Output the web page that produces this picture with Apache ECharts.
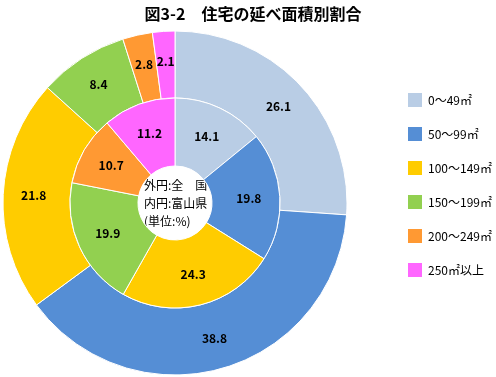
<!DOCTYPE html>
<html>
<head>
<meta charset="utf-8">
<script src="https://cdn.jsdelivr.net/npm/echarts@6/dist/echarts.min.js"></script>
<style>
  html, body { margin: 0; padding: 0; background: #fff; }
  #chart { width: 496px; height: 377px; }
</style>
</head>
<body>
<div id="chart"></div>
<script>
// 延べ面積の区分
const categories = ['0～49㎡', '50～99㎡', '100～149㎡', '150～199㎡', '200～249㎡', '250㎡以上']
// 外円: 全国 (%)
const nationalValues = [26.1, 38.8, 21.8, 8.4, 2.8, 2.1]
// 内円: 富山県 (%)
const toyamaValues = [14.1, 19.8, 24.3, 19.9, 10.7, 11.2]
const colors = ['#B9CDE5', '#558ED5', '#FFCC00', '#92D050', '#FF9933', '#FF66FF']

const font = '"Noto Sans CJK JP", sans-serif'
const center = [175, 203]

function toData(values) {
  return values.map((v, i) => ({ name: categories[i], value: v }))
}

const labelStyle = {
  show: true,
  position: 'inside',
  formatter: (p) => p.value.toFixed(1),
  color: '#000',
  fontSize: 12,
  fontWeight: 'bold',
  fontFamily: font,
}

const myChart = echarts.init(document.getElementById('chart'))
myChart.setOption({
  animation: false,
  color: colors,
  title: {
    text: '図3-2　住宅の延べ面積別割合',
    left: 248,
    textAlign: 'center',
    top: 1,
    textStyle: { fontSize: 16, fontWeight: 'bold', color: '#000', fontFamily: font },
  },
  legend: {
    orient: 'vertical',
    left: 401,
    top: 86,
    itemWidth: 16,
    itemHeight: 16,
    itemGap: 16,
    icon: 'rect',
    data: categories,
    textStyle: { fontSize: 12, color: '#000', fontFamily: font, padding: [8, 0, 0, 0] },
  },
  graphic: [{
    type: 'text',
    left: center[0] - 31,
    top: center[1] - 27,
    style: {
      text: '外円:全　国\n内円:富山県\n(単位:%)',
      align: 'center',
      fontSize: 12,
      lineHeight: 18,
      fill: '#000',
      fontFamily: font,
    },
  }],
  series: [
    {
      name: '全国',
      type: 'pie',
      center: center,
      radius: [105, 172],
      startAngle: 90,
      clockwise: true,
      itemStyle: { borderColor: '#fff', borderWidth: 1 },
      label: labelStyle,
      labelLine: { show: false },
      emphasis: { disabled: true },
      data: toData(nationalValues),
    },
    {
      name: '富山県',
      type: 'pie',
      center: center,
      radius: [37, 105],
      startAngle: 90,
      clockwise: true,
      itemStyle: { borderColor: '#fff', borderWidth: 1 },
      label: labelStyle,
      labelLine: { show: false },
      emphasis: { disabled: true },
      data: toData(toyamaValues),
    },
  ],
})
</script>
</body>
</html>
